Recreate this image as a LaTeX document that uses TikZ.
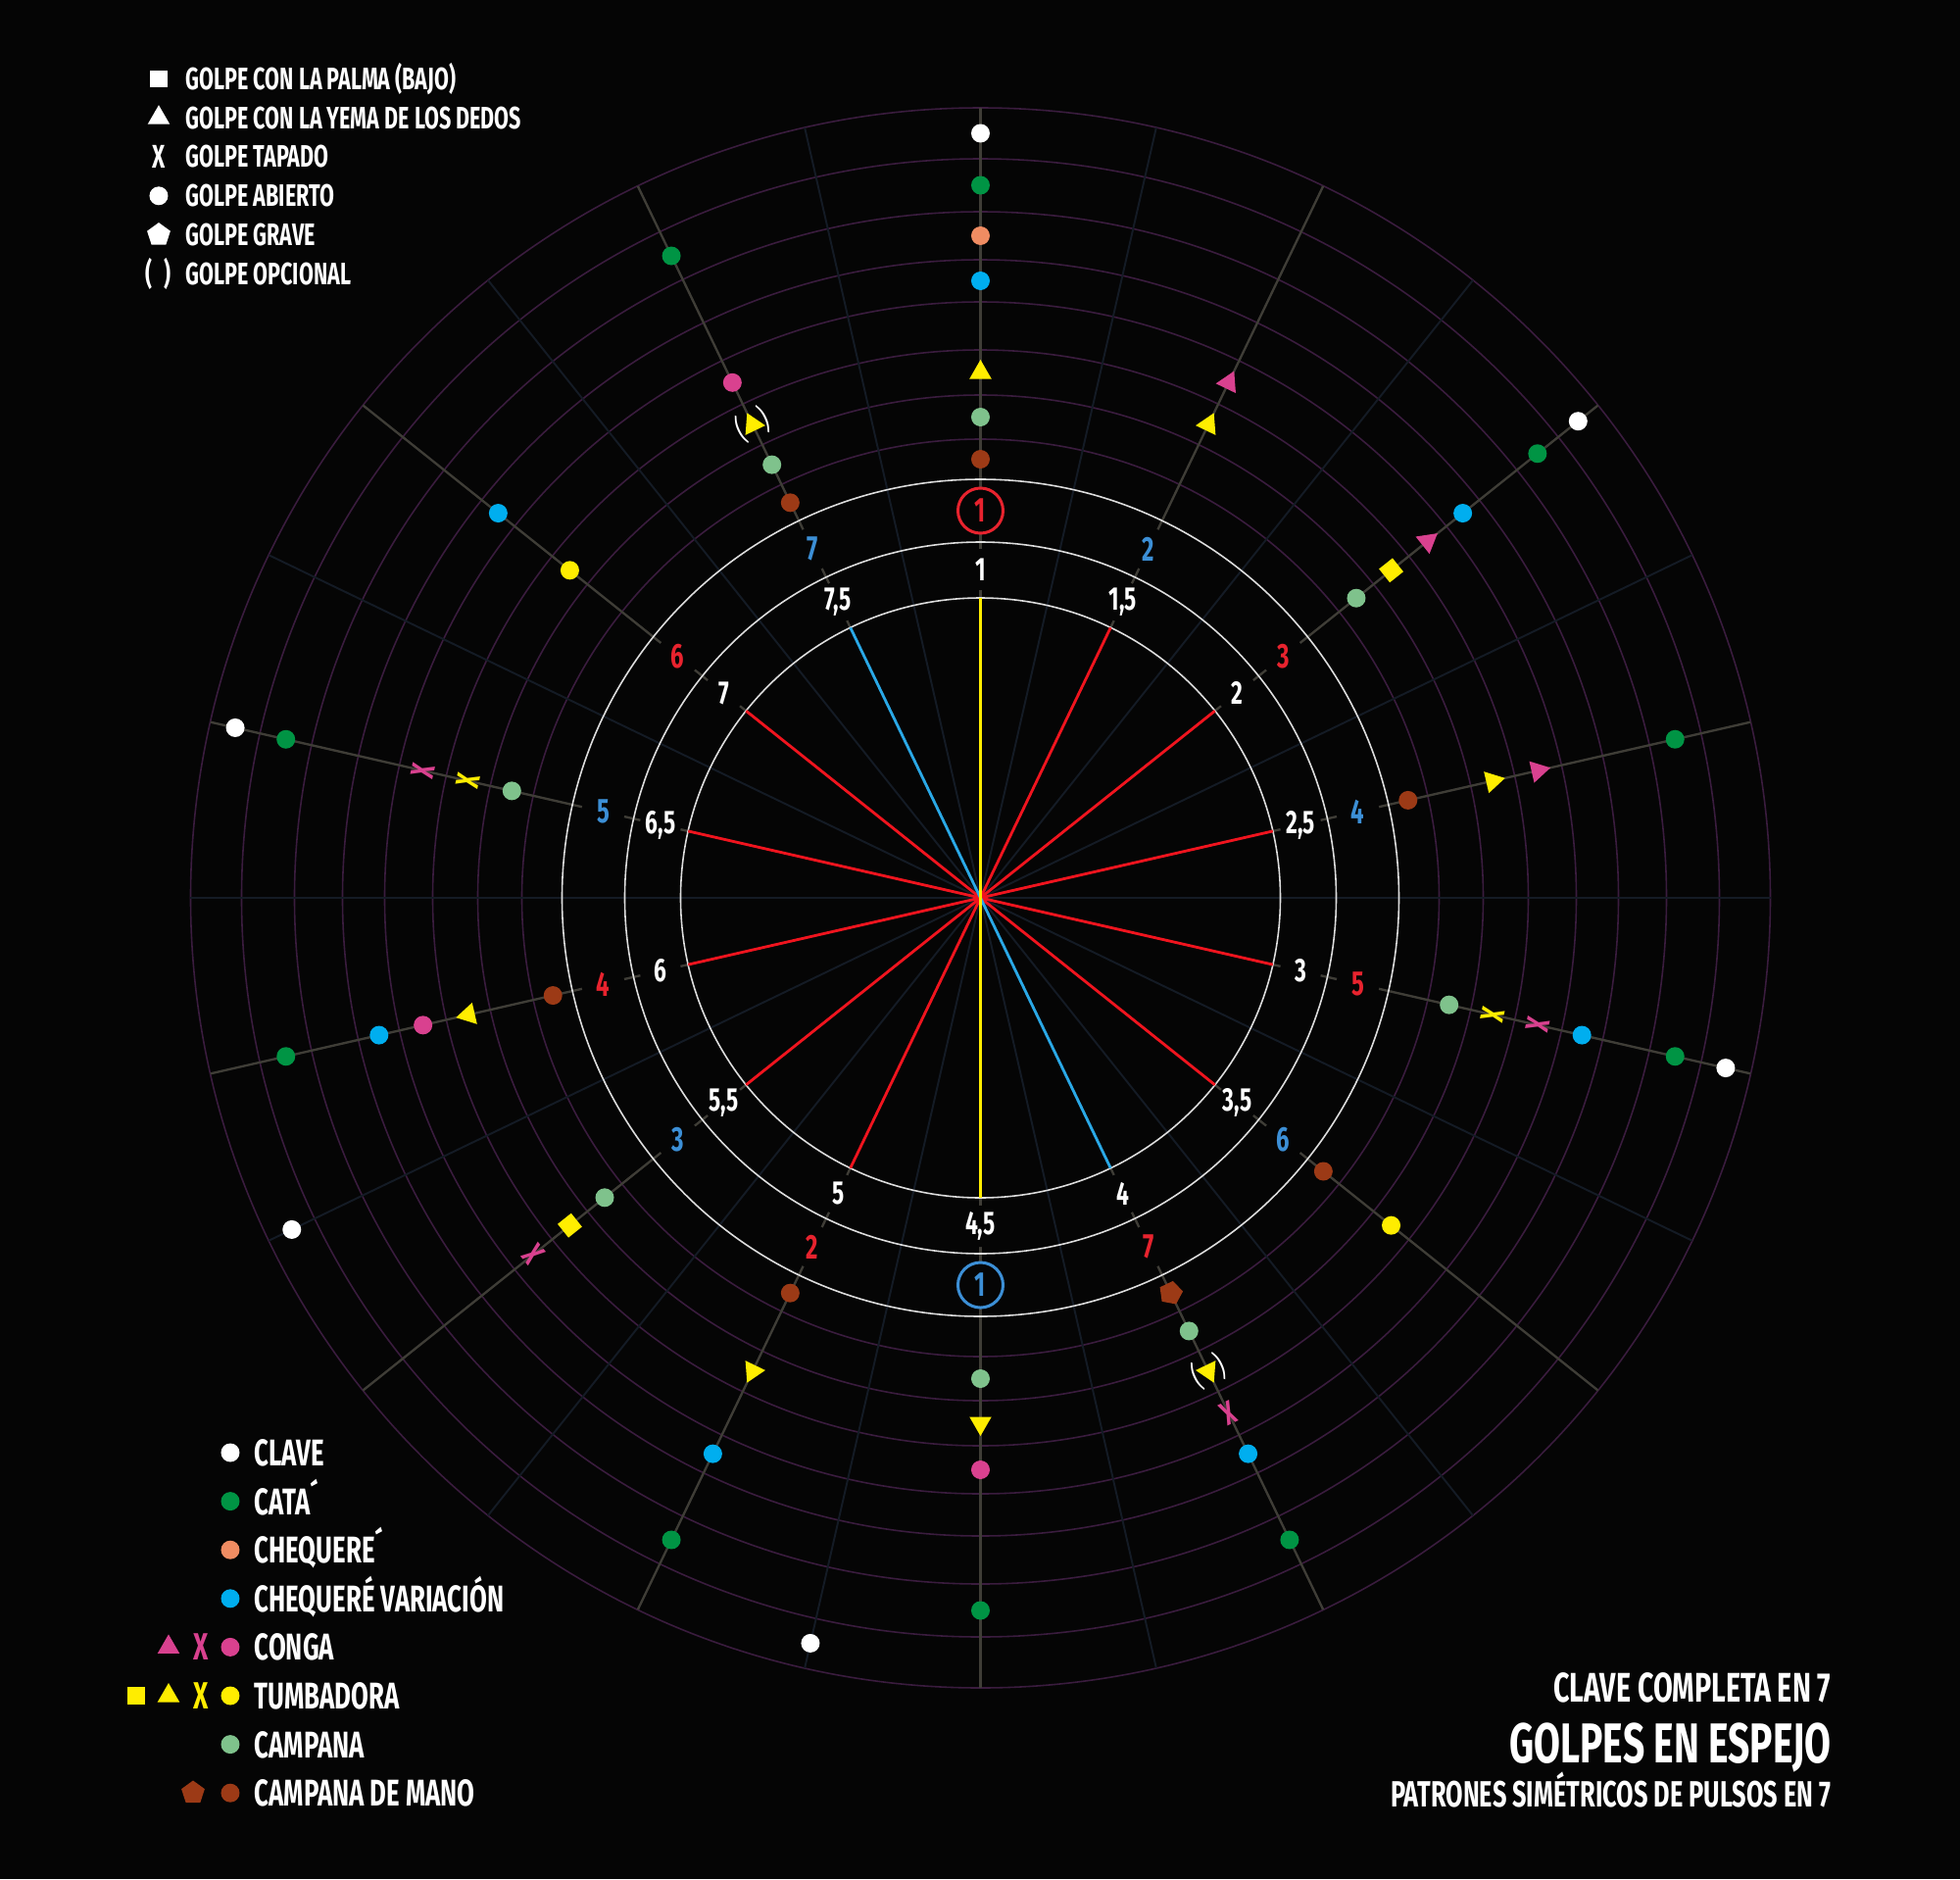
\documentclass[tikz,border=0pt]{standalone}
\usepackage{fontspec}
\setmainfont{Fira Sans}[FakeStretch=0.68]
\usetikzlibrary{shapes.geometric}

\definecolor{bgblack}{HTML}{050505}
\definecolor{ringpurple}{HTML}{3A1C3E}
\definecolor{faintspoke}{HTML}{141B25}
\definecolor{spokegray}{HTML}{3F3D36}
\definecolor{ringwhite}{HTML}{DDDDDD}
\definecolor{pulsered}{HTML}{E8232E}
\definecolor{linered}{HTML}{F0141E}
\definecolor{pulseblue}{HTML}{3C8FD6}
\definecolor{lineblue}{HTML}{2AA8E6}
\definecolor{claveW}{HTML}{FFFFFF}
\definecolor{cata}{HTML}{009444}
\definecolor{chequere}{HTML}{F08C62}
\definecolor{chequerevar}{HTML}{00AEEF}
\definecolor{conga}{HTML}{D9418F}
\definecolor{tumba}{HTML}{FFED00}
\definecolor{campana}{HTML}{7FC28C}
\definecolor{mano}{HTML}{9C3A16}

\newcommand{\laneR}[1]{\ifcase#1\or 447.5\or 490.5\or 536\or 583.5\or 629.5\or 675.5\or 727\or 780\fi}
\newcommand{\bebas}[1]{\fontsize{#1}{#1}\selectfont\bfseries}

% (step of 28, lane, colour)
\newcommand{\abierto}[3]{
    \fill[#3] ({90-#1*360/28}:{\laneR{#2}}) circle (9.5);
}
\newcommand{\yema}[3]{
    \node[tri, fill=#3, rotate={-#1*360/28}] (y-#1-#2) at ({90-#1*360/28}:{\laneR{#2}}) {};
}
\newcommand{\palma}[3]{
    \node[sq, fill=#3, rotate={-#1*360/28}] (s-#1-#2) at ({90-#1*360/28}:{\laneR{#2}}) {};
}
\newcommand{\tapado}[3]{
    \node[xmark, text=#3, rotate={-#1*360/28}] (x-#1-#2) at ({90-#1*360/28}:{\laneR{#2}}) {X};
}
\newcommand{\golpegrave}[3]{
    \node[pent, fill=#3, rotate={-#1*360/28}] (g-#1-#2) at ({90-#1*360/28}:{\laneR{#2}}) {};
}
\newcommand{\opcional}[2]{
    \node[text=white, inner sep=0, font=\fontsize{9}{9}\selectfont, rotate={-#1*360/28}] (o-#1-#2) at ({90-#1*360/28}:{\laneR{#2}}) {(\hspace{0.2cm})};
}

\tikzset{
  tri/.style={regular polygon, regular polygon sides=3, inner sep=0, minimum size=0.26cm},
  sq/.style={regular polygon, regular polygon sides=4, inner sep=0, minimum size=0.25cm},
  pent/.style={regular polygon, regular polygon sides=5, inner sep=0, minimum size=0.25cm},
  xmark/.style={inner sep=0, font=\bebas{9.5}},
  inlabel/.style={circle, fill=bgblack, inner sep=0, minimum size=0.42cm, text=white, font=\bebas{9.5}},
  outlabel/.style={circle, fill=bgblack, inner sep=0, minimum size=0.44cm, font=\bebas{10}},
  legtop/.style={anchor=base west, inner sep=0, text=white, font=\bebas{9}},
  legbot/.style={anchor=base west, inner sep=0, text=white, font=\bebas{10.8}},
  titletext/.style={anchor=base east, inner sep=0, text=white}
}

\begin{document}
\begin{tikzpicture}[x=0.01cm, y=0.01cm]

  \useasboundingbox (-1000.5,-1001) rectangle (999.5,916);
  \fill[bgblack] (-1000.5,-1001) rectangle (999.5,916);

  % rings and spokes
  \foreach \r in {468,513,559,608,651,700,754,806}
    \draw[ringpurple, line width=0.45pt] (0,0) circle (\r);
  \foreach \i in {0,...,27}
    \draw[faintspoke, line width=0.55pt] (0,0) -- ({90-\i*360/28}:806);
  \foreach \j in {0,...,13}
    \draw[spokegray, line width=0.65pt] ({90-\j*360/14}:306) -- ({90-\j*360/14}:806);
  \foreach \r in {306,363,427}
    \draw[ringwhite, line width=0.45pt] (0,0) circle (\r);

  % pulse lines
  \foreach \j in {1,2,3,4,5,8,9,10,11,12}
    \draw[linered, line width=0.8pt] (0,0) -- ({90-\j*360/14}:306);
  \foreach \j in {6,13}
    \draw[lineblue, line width=0.8pt] (0,0) -- ({90-\j*360/14}:306);
  \draw[tumba, line width=0.8pt] (90:306) -- (-90:306);

  % half pulses
  \foreach \t [count=\j from 0] in {1,{1,5},2,{2,5},3,{3,5},4,{4,5},5,{5,5},6,{6,5},7,{7,5}}
    \node[inlabel] (p-\j) at ({90-\j*360/14}:335) {\t};

  % pulses in 7
  \node[outlabel, draw=pulsered, line width=0.85pt, minimum size=0.46cm, text=pulsered] (q-0) at (90:395) {1};
  \node[outlabel, draw=pulseblue, line width=0.85pt, minimum size=0.46cm, text=pulseblue] (q-7) at (-90:395) {1};
  \foreach \j/\t/\c in {1/2/pulseblue, 2/3/pulsered, 3/4/pulseblue, 4/5/pulsered, 5/6/pulseblue, 6/7/pulsered,
                         8/2/pulsered, 9/3/pulseblue, 10/4/pulsered, 11/5/pulseblue, 12/6/pulsered, 13/7/pulseblue}
    \node[outlabel, text=\c] (q-\j) at ({90-\j*360/14}:395) {\t};

  % strokes
  \abierto{0}{8}{claveW}
  \abierto{0}{7}{cata}
  \abierto{0}{6}{chequere}
  \abierto{0}{5}{chequerevar}
  \yema{0}{3}{tumba}
  \abierto{0}{2}{campana}
  \abierto{0}{1}{mano}

  \yema{2}{4}{conga}
  \yema{2}{3}{tumba}

  \abierto{4}{8}{claveW}
  \abierto{4}{7}{cata}
  \abierto{4}{5}{chequerevar}
  \yema{4}{4}{conga}
  \palma{4}{3}{tumba}
  \abierto{4}{2}{campana}

  \abierto{6}{7}{cata}
  \yema{6}{4}{conga}
  \yema{6}{3}{tumba}
  \abierto{6}{1}{mano}

  \abierto{8}{8}{claveW}
  \abierto{8}{7}{cata}
  \abierto{8}{5}{chequerevar}
  \tapado{8}{4}{conga}
  \tapado{8}{3}{tumba}
  \abierto{8}{2}{campana}

  \abierto{10}{3}{tumba}
  \abierto{10}{1}{mano}

  \abierto{12}{7}{cata}
  \abierto{12}{5}{chequerevar}
  \tapado{12}{4}{conga}
  \yema{12}{3}{tumba}
  \opcional{12}{3}
  \abierto{12}{2}{campana}
  \golpegrave{12}{1}{mano}

  \abierto{14}{7}{cata}
  \abierto{14}{4}{conga}
  \yema{14}{3}{tumba}
  \abierto{14}{2}{campana}

  \abierto{15}{8}{claveW}

  \abierto{16}{7}{cata}
  \abierto{16}{5}{chequerevar}
  \yema{16}{3}{tumba}
  \abierto{16}{1}{mano}

  \tapado{18}{4}{conga}
  \palma{18}{3}{tumba}
  \abierto{18}{2}{campana}

  \abierto{19}{8}{claveW}

  \abierto{20}{7}{cata}
  \abierto{20}{5}{chequerevar}
  \abierto{20}{4}{conga}
  \yema{20}{3}{tumba}
  \abierto{20}{1}{mano}

  \abierto{22}{8}{claveW}
  \abierto{22}{7}{cata}
  \tapado{22}{4}{conga}
  \tapado{22}{3}{tumba}
  \abierto{22}{2}{campana}

  \abierto{24}{5}{chequerevar}
  \abierto{24}{3}{tumba}

  \abierto{26}{7}{cata}
  \abierto{26}{4}{conga}
  \yema{26}{3}{tumba}
  \opcional{26}{3}
  \abierto{26}{2}{campana}
  \abierto{26}{1}{mano}

  % legend of strokes
  \node[sq, fill=white] (ls-0) at (-838.5,835.6) {};
  \node[tri, fill=white] (ls-1) at (-838.5,795.8) {};
  \node[xmark, text=white] (ls-2) at (-838.5,756.0) {X};
  \fill[white] (-838.5,716.2) circle (9.5);
  \node[pent, fill=white] (ls-4) at (-838.5,676.4) {};
  \node[inner sep=0, text=white, font=\bebas{9}] (ls-5) at (-838.5,636.6) {(\hspace{0.12cm})};
  \foreach \t [count=\k from 0] in {GOLPE CON LA PALMA (BAJO), GOLPE CON LA YEMA DE LOS DEDOS, GOLPE TAPADO,
                                    GOLPE ABIERTO, GOLPE GRAVE, GOLPE OPCIONAL}
    \node[legtop] (lt-\k) at (-811.5,{824.6-39.8*\k}) {\t};

  % legend of instruments
  \foreach \t/\c [count=\k from 0] in {CLAVE/claveW, CATA´/cata, CHEQUERE´/chequere, CHEQUERÉ VARIACIÓN/chequerevar,
                                       CONGA/conga, TUMBADORA/tumba, CAMPANA/campana, CAMPANA DE MANO/mano}{
    \fill[\c] (-765.5,{-566-49.6*\k}) circle (9.5);
    \node[legbot] (lb-\k) at (-741.5,{-579.5-49.6*\k}) {\t};
  }
  \node[tri, fill=conga] (lc-1) at (-828.5,-764.4) {};
  \node[xmark, text=conga, font=\bebas{11}] (lc-2) at (-795.5,-764.4) {X};
  \node[sq, fill=tumba] (lm-0) at (-861.5,-814) {};
  \node[tri, fill=tumba] (lm-1) at (-828.5,-814) {};
  \node[xmark, text=tumba, font=\bebas{11}] (lm-2) at (-795.5,-814) {X};
  \node[pent, fill=mano] (lh-0) at (-803.5,-913) {};

  % title
  \node[titletext, font=\bebas{12}] (t1) at (868.5,-820) {CLAVE COMPLETA EN 7};
  \node[titletext, font=\bebas{16.3}] (t2) at (868.5,-882) {GOLPES EN ESPEJO};
  \node[titletext, font=\bebas{10.6}] (t3) at (868.5,-927) {PATRONES SIMÉTRICOS DE PULSOS EN 7};

\end{tikzpicture}
\end{document}
